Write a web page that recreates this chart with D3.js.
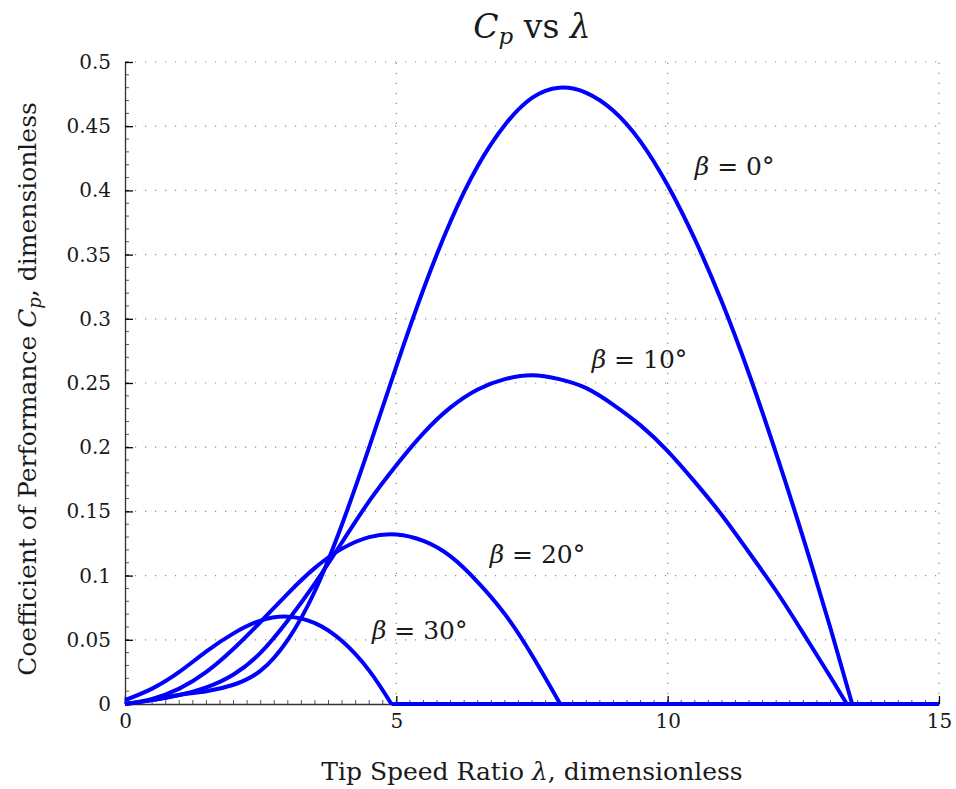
<!DOCTYPE html>
<html>
<head>
<meta charset="utf-8">
<script src="https://cdn.jsdelivr.net/npm/d3@7"></script>
<style>
    body { margin: 0; background: #fff; }
    svg { display: block; background: #fff; }
</style>
</head>
<body>
<svg id="chart" width="956" height="789"></svg>
<script>
// [tip speed ratio, Cp] pairs, one list per pitch angle
const cpBeta0 = [[0, 0], [0.5, 0.003], [1, 0.007], [1.5, 0.01], [2, 0.015], [2.5, 0.026], [3, 0.05], [3.5, 0.088],
    [4, 0.14], [4.5, 0.2], [5, 0.263], [5.5, 0.323], [6, 0.376], [6.5, 0.419], [7, 0.451], [7.5, 0.472],
    [8, 0.48], [8.5, 0.476], [9, 0.462], [9.5, 0.438], [10, 0.404], [10.5, 0.362], [11, 0.313], [11.5, 0.257],
    [12, 0.195], [12.5, 0.129], [13, 0.059], [13.4, 0], [15, 0]];
const cpBeta10 = [[0, 0], [0.5, 0.003], [1, 0.007], [1.5, 0.013], [2, 0.023], [2.5, 0.04], [3, 0.065], [3.5, 0.094],
    [4, 0.126], [4.5, 0.158], [5, 0.186], [5.5, 0.211], [6, 0.231], [6.5, 0.245], [7, 0.253], [7.5, 0.256],
    [8, 0.253], [8.5, 0.246], [9, 0.233], [9.5, 0.217], [10, 0.197], [10.5, 0.173], [11, 0.147], [11.5, 0.118],
    [12, 0.088], [12.5, 0.055], [13, 0.021], [13.3, 0], [15, 0]];
const cpBeta20 = [[0, 0], [0.5, 0.004], [1, 0.012], [1.5, 0.025], [2, 0.043], [2.5, 0.064], [3, 0.086], [3.5, 0.106],
    [4, 0.121], [4.5, 0.13], [5, 0.132], [5.5, 0.127], [6, 0.115], [6.5, 0.095], [7, 0.07], [7.5, 0.038],
    [8.02, 0], [15, 0]];
const cpBeta30 = [[0, 0.003], [0.5, 0.012], [1, 0.025], [1.5, 0.041], [2, 0.055], [2.5, 0.065], [3, 0.068],
    [3.5, 0.063], [4, 0.049], [4.5, 0.026], [4.91, 0], [15, 0]];

const pitchAngles = [0, 10, 20, 30];
const xTicks = [0, 5, 10, 15];
const yTicks = [0, 0.05, 0.1, 0.15, 0.2, 0.25, 0.3, 0.35, 0.4, 0.45, 0.5];

const width = 956;
const height = 789;
const margins = { top: 62, right: 17, bottom: 85, left: 125 };
const FONT = "'DejaVu Serif', 'Liberation Serif', serif";
const BLUE = "#0000ff";
const TEXT_COLOR = "#1a1a1a";

const svg = d3.select("#chart");

const xScale = d3.scaleLinear().domain([0, 15]).range([margins.left, width - margins.right]);
const yScale = d3.scaleLinear().domain([0, 0.5]).range([height - margins.bottom, margins.top]);

// dotted grid
const grid = svg.append("g").attr("class", "grid");
grid.selectAll(".h-grid")
    .data(yTicks.filter((d) => d > 0))
    .enter()
    .append("line")
    .attr("x1", xScale(0))
    .attr("x2", xScale(15))
    .attr("y1", (d) => yScale(d))
    .attr("y2", (d) => yScale(d));
grid.selectAll(".v-grid")
    .data(xTicks.filter((d) => d > 0))
    .enter()
    .append("line")
    .attr("x1", (d) => xScale(d))
    .attr("x2", (d) => xScale(d))
    .attr("y1", yScale(0))
    .attr("y2", yScale(0.5));
grid.selectAll("line")
    .attr("stroke", "#8a8a8a")
    .attr("stroke-width", 1.2)
    .attr("stroke-dasharray", "1.2,8.8");

// minor ticks, pointing inward
const minor = svg.append("g").attr("class", "minor-ticks");
minor.selectAll(".mx")
    .data(d3.range(0, 15.001, 0.25))
    .enter()
    .append("line")
    .attr("x1", (d) => xScale(d))
    .attr("x2", (d) => xScale(d))
    .attr("y1", yScale(0))
    .attr("y2", yScale(0) - 4);
minor.selectAll(".my")
    .data(d3.range(0, 0.5001, 0.01))
    .enter()
    .append("line")
    .attr("x1", xScale(0))
    .attr("x2", xScale(0) + 4)
    .attr("y1", (d) => yScale(d))
    .attr("y2", (d) => yScale(d));
minor.selectAll("line").attr("stroke", "#555").attr("stroke-width", 1);

const xAxis = (g) => {
    g.attr("transform", `translate(0,${yScale(0)})`)
        .call(d3.axisBottom(xScale).tickValues(xTicks).tickSizeInner(-8).tickSizeOuter(0).tickPadding(10).tickFormat(d3.format("d")));
    g.select(".domain").attr("stroke", "#333").attr("stroke-width", 1.3);
    g.selectAll(".tick line").attr("stroke", "#000").attr("stroke-width", 1.3);
    g.selectAll("text").attr("font-size", 20).attr("font-family", FONT).attr("fill", TEXT_COLOR);
};

const yAxis = (g) => {
    g.attr("transform", `translate(${xScale(0)},0)`)
        .call(d3.axisLeft(yScale).tickValues(yTicks).tickSizeInner(-8).tickSizeOuter(0).tickPadding(14).tickFormat((d) => String(+d.toFixed(2))));
    g.select(".domain").attr("stroke", "#333").attr("stroke-width", 1.3);
    g.selectAll(".tick line").attr("stroke", "#000").attr("stroke-width", 1.3);
    g.selectAll("text").attr("font-size", 20).attr("font-family", FONT).attr("fill", TEXT_COLOR);
};

svg.append("g").attr("class", "x-axis").call(xAxis);
svg.append("g").attr("class", "y-axis").call(yAxis);

// curves: smooth spline up to the zero crossing, then a straight run along zero
const smoothLine = d3.line()
    .x((d) => xScale(d[0]))
    .y((d) => yScale(d[1]))
    .curve(d3.curveNatural);
const straightLine = d3.line()
    .x((d) => xScale(d[0]))
    .y((d) => yScale(d[1]));

const series = [cpBeta0, cpBeta10, cpBeta20, cpBeta30];
const plot = svg.append("g").attr("class", "curves");
series.forEach((values) => {
    plot.append("path")
        .attr("d", smoothLine(values.slice(0, -1)))
        .attr("fill", "none")
        .attr("stroke", BLUE)
        .attr("stroke-width", 4)
        .attr("stroke-linejoin", "round");
    plot.append("path")
        .attr("d", straightLine(values.slice(-2)))
        .attr("fill", "none")
        .attr("stroke", BLUE)
        .attr("stroke-width", 4);
});

// curve labels, placed in data units
const labelSpots = [[10.5, 0.412], [8.6, 0.262], [6.72, 0.11], [4.55, 0.051]];
pitchAngles.forEach((angle, i) => {
    const t = svg.append("text")
        .attr("x", xScale(labelSpots[i][0]))
        .attr("y", yScale(labelSpots[i][1]))
        .attr("font-family", FONT)
        .attr("font-size", 25)
        .attr("fill", TEXT_COLOR);
    t.append("tspan").attr("font-style", "italic").text("β");
    t.append("tspan").text(` = ${angle}°`);
});

// title
const title = svg.append("text")
    .attr("x", (xScale(0) + xScale(15)) / 2)
    .attr("y", 38)
    .attr("text-anchor", "middle")
    .attr("font-family", FONT)
    .attr("font-size", 33)
    .attr("fill", TEXT_COLOR);
title.append("tspan").attr("font-style", "italic").text("C");
title.append("tspan").attr("font-style", "italic").attr("font-size", 23).attr("dy", 6).text("p");
title.append("tspan").attr("dy", -6).text(" vs ");
title.append("tspan").attr("font-style", "italic").text("λ");

// x label
const xLabel = svg.append("text")
    .attr("x", (xScale(0) + xScale(15)) / 2)
    .attr("y", 780)
    .attr("text-anchor", "middle")
    .attr("font-family", FONT)
    .attr("font-size", 25)
    .attr("fill", TEXT_COLOR);
xLabel.append("tspan").text("Tip Speed Ratio ");
xLabel.append("tspan").attr("font-style", "italic").text("λ");
xLabel.append("tspan").text(", dimensionless");

// y label
const yLabel = svg.append("text")
    .attr("transform", `translate(36,${(yScale(0) + yScale(0.5)) / 2 + 6}) rotate(-90)`)
    .attr("text-anchor", "middle")
    .attr("font-family", FONT)
    .attr("font-size", 25)
    .attr("fill", TEXT_COLOR);
yLabel.append("tspan").text("Coefficient of Performance ");
yLabel.append("tspan").attr("font-style", "italic").text("C");
yLabel.append("tspan").attr("font-style", "italic").attr("font-size", 18).attr("dy", 5).text("p");
yLabel.append("tspan").attr("dy", -5).text(", dimensionless");
</script>
</body>
</html>
